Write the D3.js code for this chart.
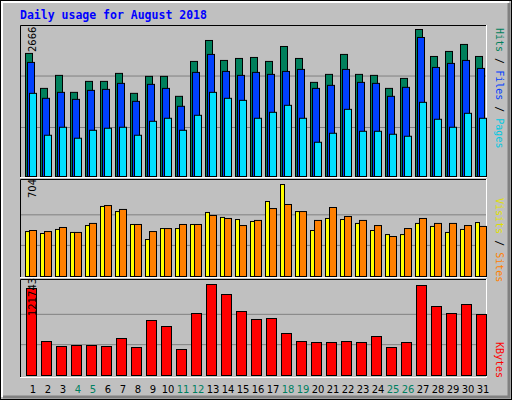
<!DOCTYPE html><html><head><script src="https://cdn.jsdelivr.net/npm/d3@7"></script>
<style>body{margin:0;background:#fff}</style></head><body><svg id="c" width="512" height="400"></svg>
<script>
const days=d3.range(1,32);
const weekend=[4,5,11,12,18,19,25,26];
const hits=[2232,1598,1834,1526,1725,1725,1870,1508,1816,1816,1454,2087,2467,2105,2141,2159,2087,2358,2141,1707,1852,2214,1852,1834,1598,1779,2666,2177,2268,2395,2177];
const files=[2069,1418,1526,1399,1562,1580,1689,1363,1671,1598,1273,1888,2214,1906,1834,1888,1852,1906,1942,1598,1653,1942,1707,1689,1454,1617,2521,1978,2051,2105,1960];
const pages=[1508,748,893,694,838,875,893,748,1001,1056,838,1110,1526,1418,1381,1056,1164,1291,1056,621,784,1218,820,820,766,730,1345,1038,893,1146,1056];
const sites=[344,329,360,337,390,536,497,398,283,367,367,398,490,452,436,421,574,704,497,352,444,436,406,352,321,321,406,383,337,360,413];
const visits=[352,344,375,337,406,543,513,398,344,367,398,398,467,444,390,429,520,551,497,429,528,459,429,390,306,367,444,406,406,390,383];
const kbytes=[116380,45480,38790,40130,40130,38790,49500,37460,73580,65550,34780,82940,121743,108360,85620,74920,76250,56190,45480,44150,44150,45480,44150,52170,37460,44150,120400,92310,82940,94980,81600];

const svg=d3.select("#c");
svg.append("rect").attr("x",0).attr("y",0).attr("width",512).attr("height",400).attr("fill","#C0C0C0");
svg.append("rect").attr("x",0.5).attr("y",0.5).attr("width",511).attr("height",399).attr("fill","none").attr("stroke","#000");
svg.append("path").attr("d","M2,397V2H509").attr("fill","none").attr("stroke","#fff").attr("stroke-width",2);
svg.append("path").attr("d","M3,397H509V3").attr("fill","none").attr("stroke","#808080").attr("stroke-width",3);
svg.append("text").attr("x",20).attr("y",19).attr("font-family","DejaVu Sans Mono").attr("font-weight","bold").attr("font-size",11.5).attr("fill","#0000FF").text("Daily usage for August 2018");

const x=d3.scaleLinear().domain([1,31]).range([25,475]);
function panel(y0,y1){
  svg.append("rect").attr("x",20).attr("y",y0).attr("width",467).attr("height",y1-y0).attr("fill","#C0C0C0");
  svg.append("path").attr("d",`M20.5,${y1}V${y0+0.5}H487`).attr("fill","none").attr("stroke","#000");
  svg.append("path").attr("d",`M20,${y1-0.5}H486.5V${y0}`).attr("fill","none").attr("stroke","#fff");
}
function grid(y,vals){vals.forEach(v=>svg.append("line").attr("x1",21).attr("x2",486).attr("y1",y(v)).attr("y2",y(v)).attr("stroke","#808080").attr("stroke-width",1));}
function bars(data,y,color,off,w){
  svg.append("g").selectAll("rect").data(data).join("rect")
   .attr("x",(d,i)=>x(days[i])+off+0.5).attr("y",d=>y(d)+0.5).attr("width",w).attr("height",d=>y.range()[0]-y(d))
   .attr("fill",color).attr("stroke","#000").attr("stroke-width",1);
}
function leftLabel(txt,xx,yy){svg.append("text").attr("transform",`translate(${xx},${yy}) rotate(-90)`).attr("font-family","DejaVu Sans").attr("font-size",10).attr("fill","#000").text(txt);}
function rightLabel(parts,yy){const t=svg.append("text").attr("transform",`translate(496,${yy}) rotate(90)`).attr("font-family","DejaVu Sans Mono").attr("font-size",10);
  parts.forEach(p=>t.append("tspan").attr("fill",p[1]).text(p[0]));}

// top panel
panel(25,178);
const y1=d3.scaleLinear().domain([0,2666]).range([176,29]);
grid(y1,[2666/3*0.99,2666*2/3*1.02]);
bars(hits,y1,"#00805C",0,7);
bars(files,y1,"#0040FF",2,7);
bars(pages,y1,"#00E0FF",4,7);
leftLabel("2666",36,52);
rightLabel([["Hits","#00805C"],[" / ","#000"],["Files","#0040FF"],[" / ","#000"],["Pages","#00C8E0"]],28);

// middle
panel(179,278);
const y2=d3.scaleLinear().domain([0,704]).range([276,184]);
grid(y2,[234,468]);
bars(sites,y2,"#FFFF00",0,4);
bars(visits,y2,"#FF8000",4,7);
leftLabel("704",36,198);
rightLabel([["Visits","#E0E000"],[" / ","#000"],["Sites","#FF8000"]],198);

// bottom
panel(279,378);
const y3=d3.scaleLinear().domain([0,121743]).range([375,284]);
grid(y3,[40581,81162]);
bars(kbytes,y3,"#FF0000",1,10);
leftLabel("121743",36,316);
rightLabel([["KBytes","#FF0000"]],342);

svg.append("g").selectAll("text").data(days).join("text")
  .attr("x",d=>x(d)+8).attr("y",393).attr("text-anchor","middle")
  .attr("font-family","DejaVu Sans").attr("font-size",10)
  .attr("fill",d=>weekend.includes(d)?"#008060":"#000").text(d=>d);
</script></body></html>
